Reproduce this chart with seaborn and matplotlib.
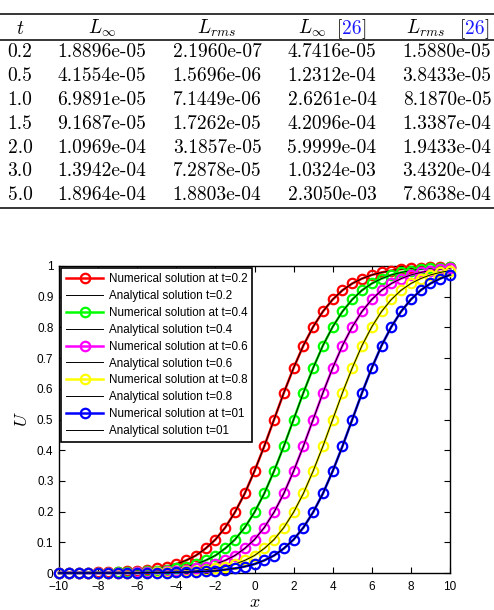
import matplotlib
matplotlib.use("Agg")
import numpy as np
import seaborn as sns
import matplotlib.pyplot as plt

plt.rcParams['mathtext.fontset'] = 'cm'

# ---- table data ----
t_col = ["0.2", "0.5", "1.0", "1.5", "2.0", "3.0", "5.0"]
linf = ["1.8896e-05", "4.1554e-05", "6.9891e-05", "9.1687e-05", "1.0969e-04", "1.3942e-04", "1.8964e-04"]
lrms = ["2.1960e-07", "1.5696e-06", "7.1449e-06", "1.7262e-05", "3.1857e-05", "7.2878e-05", "1.8803e-04"]
linf_ref = ["4.7416e-05", "1.2312e-04", "2.6261e-04", "4.2096e-04", "5.9999e-04", "1.0324e-03", "2.3050e-03"]
lrms_ref = ["1.5880e-05", "3.8433e-05", "8.1870e-05", "1.3387e-04", "1.9433e-04", "3.4320e-04", "7.8638e-04"]

# ---- chart data ----
x_grid = np.linspace(-10, 10, 41)
u_t02 = [0.000, 0.001, 0.001, 0.001, 0.002, 0.003, 0.004, 0.005, 0.007, 0.011, 0.015,
         0.021, 0.029, 0.041, 0.057, 0.080, 0.109, 0.148, 0.198, 0.259, 0.332, 0.413,
         0.500, 0.587, 0.668, 0.741, 0.802, 0.852, 0.891, 0.921, 0.943, 0.959, 0.971,
         0.979, 0.985, 0.990, 0.993, 0.995, 0.996, 0.997, 0.998]
u_t04 = [0.000, 0.000, 0.000, 0.001, 0.001, 0.001, 0.002, 0.003, 0.004, 0.005, 0.007,
         0.011, 0.015, 0.021, 0.029, 0.041, 0.057, 0.080, 0.109, 0.148, 0.198, 0.259,
         0.332, 0.413, 0.500, 0.587, 0.668, 0.741, 0.802, 0.852, 0.891, 0.921, 0.943,
         0.959, 0.971, 0.979, 0.985, 0.990, 0.993, 0.995, 0.996]
u_t06 = [0.000, 0.000, 0.000, 0.000, 0.000, 0.001, 0.001, 0.001, 0.002, 0.003, 0.004,
         0.005, 0.007, 0.011, 0.015, 0.021, 0.029, 0.041, 0.057, 0.080, 0.109, 0.148,
         0.198, 0.259, 0.332, 0.413, 0.500, 0.587, 0.668, 0.741, 0.802, 0.852, 0.891,
         0.921, 0.943, 0.959, 0.971, 0.979, 0.985, 0.990, 0.993]
u_t08 = [0.000, 0.000, 0.000, 0.000, 0.000, 0.000, 0.000, 0.001, 0.001, 0.001, 0.002,
         0.003, 0.004, 0.005, 0.007, 0.011, 0.015, 0.021, 0.029, 0.041, 0.057, 0.080,
         0.109, 0.148, 0.198, 0.259, 0.332, 0.413, 0.500, 0.587, 0.668, 0.741, 0.802,
         0.852, 0.891, 0.921, 0.943, 0.959, 0.971, 0.979, 0.985]
u_t01 = [0.000, 0.000, 0.000, 0.000, 0.000, 0.000, 0.000, 0.000, 0.000, 0.001, 0.001,
         0.001, 0.002, 0.003, 0.004, 0.005, 0.007, 0.011, 0.015, 0.021, 0.029, 0.041,
         0.057, 0.080, 0.109, 0.148, 0.198, 0.259, 0.332, 0.413, 0.500, 0.587, 0.668,
         0.741, 0.802, 0.852, 0.891, 0.921, 0.943, 0.959, 0.971]
series = [u_t02, u_t04, u_t06, u_t08, u_t01]
t_labels = ["0.2", "0.4", "0.6", "0.8", "01"]
colors = ["#ff0000", "#00ff00", "#ff00ff", "#ffff00", "#0000ff"]

x_ticks = [-10, -8, -6, -4, -2, 0, 2, 4, 6, 8, 10]
x_ticklabels = ["\u221210", "\u22128", "\u22126", "\u22124", "\u22122", "0", "2", "4", "6", "8", "10"]
y_ticks = [0, 0.1, 0.2, 0.3, 0.4, 0.5, 0.6, 0.7, 0.8, 0.9, 1]
y_ticklabels = ["0", "0.1", "0.2", "0.3", "0.4", "0.5", "0.6", "0.7", "0.8", "0.9", "1"]

fig = plt.figure(figsize=(4.94, 6.10), dpi=100)

# ---- table, in pixel coordinates ----
tab = fig.add_axes([0, 0, 1, 1])
tab.set_xlim(0, 494)
tab.set_ylim(610, 0)
tab.axis('off')
tab.hlines([14, 40, 208], 0, 494, color='k', lw=1.1)

fs_tab = 14
col_x = [20, 102, 217, 332, 447]
row_base = [57, 81, 105, 129, 153, 176.5, 200]
for i in range(len(t_col)):
    for cx, col in zip(col_x, [t_col, linf, lrms, linf_ref, lrms_ref]):
        tab.text(cx, row_base[i], col[i], ha='center', va='baseline',
                 fontsize=fs_tab, family='cmr10')

head_base = 34
tab.text(col_x[0], head_base, "$t$", ha='center', va='baseline', fontsize=fs_tab)
tab.text(col_x[1], head_base, r"$L_\infty$", ha='center', va='baseline', fontsize=fs_tab)
tab.text(col_x[2], head_base, r"$L_{rms}$", ha='center', va='baseline', fontsize=fs_tab)

renderer = fig.canvas.get_renderer()


def put_pieces(x0, y, pieces):
    x = x0
    for s, c in pieces:
        t = tab.text(x, y, s, color=c, ha='left', va='baseline', fontsize=fs_tab, family='cmr10')
        x += t.get_window_extent(renderer=renderer).width


ref_pieces = [("[", "k"), ("26", "#1a1aff"), ("]", "k")]
tab.text(298, head_base, r"$L_\infty$", ha='left', va='baseline', fontsize=fs_tab)
put_pieces(337, head_base, ref_pieces)
tab.text(406, head_base, r"$L_{rms}$", ha='left', va='baseline', fontsize=fs_tab)
put_pieces(460, head_base, ref_pieces)

# ---- chart ----
ax = fig.add_axes([59 / 494, 37 / 610, 391 / 494, 307 / 610])
for u, tl, c in zip(series, t_labels, colors):
    sns.lineplot(x=x_grid, y=u, ax=ax, color=c, lw=1.8, marker='o', ms=6.8,
                 markerfacecolor='none', markeredgecolor=c, markeredgewidth=1.6,
                 label="Numerical solution at t=" + tl, clip_on=False, zorder=3)
    sns.lineplot(x=x_grid, y=u, ax=ax, color='k', lw=0.7,
                 label="Analytical solution t=" + tl, clip_on=False, zorder=3)

ax.set_xlim(-10, 10)
ax.set_ylim(0, 1)
ax.set_xticks(x_ticks)
ax.set_xticklabels(x_ticklabels, family='Liberation Sans', fontsize=8.5)
ax.set_yticks(y_ticks)
ax.set_yticklabels(y_ticklabels, family='Liberation Sans', fontsize=8.5)
ax.tick_params(direction='in', top=True, right=True, length=4, width=0.8, pad=4)
ax.tick_params(axis='x', pad=5.5)
for sp in ax.spines.values():
    sp.set_linewidth(1.0)

ax.set_xlabel("$x$", fontsize=13, labelpad=0)
ax.set_ylabel("$U$", fontsize=13, labelpad=4)

leg = ax.legend(loc='upper left', bbox_to_anchor=(0, 1), borderaxespad=0.2,
                prop={'family': 'Liberation Sans', 'size': 8.4},
                handlelength=3.2, handletextpad=0.5, fancybox=False,
                framealpha=1, edgecolor='k', labelspacing=0.42)
leg.get_frame().set_linewidth(1.2)

fig.savefig("out.png", dpi=100)
